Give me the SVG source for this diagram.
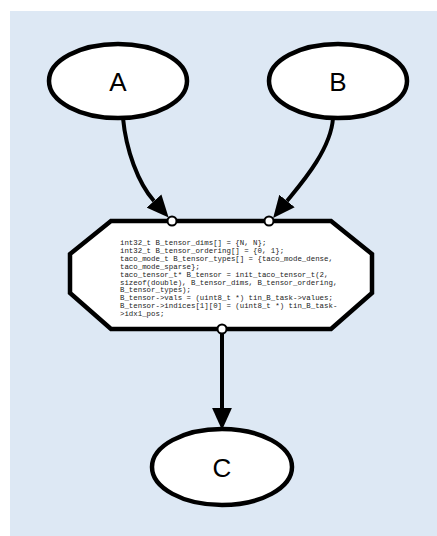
<svg xmlns="http://www.w3.org/2000/svg" width="437" height="536" viewBox="0 0 437 536">
<defs>
<style>
.node ellipse{fill:#fff;stroke:#000;stroke-width:4.5}
.lbl{font-family:"Liberation Sans",Arial,sans-serif;font-size:26px;fill:#000;text-anchor:middle}
.code{font-family:"Liberation Mono","Courier New",monospace;font-size:7.4px;fill:#222}
.edge{fill:none;stroke:#000;stroke-width:4}
.port{fill:#fff;stroke:#000;stroke-width:2}
</style>
<marker id="arr" markerUnits="userSpaceOnUse" markerWidth="22" markerHeight="20" viewBox="0 0 20 18" refX="0" refY="9" orient="auto">
<path d="M0,0 L20,9 L0,18 Z" fill="#000"/>
</marker>
</defs>
<rect x="10" y="11" width="427" height="525" fill="#dde8f4"/>
<g id="edges">
<path class="edge" d="M123,118 C126,150 138,183 154,201" marker-end="url(#arr)"/>
<path class="edge" d="M333,118 C331,150 300,185 287,201" marker-end="url(#arr)"/>
<path class="edge" d="M222,333 L222,408" marker-end="url(#arr)"/>
</g>
<g id="A" class="node"><ellipse cx="118" cy="81" rx="69" ry="37"/><text class="lbl" x="118" y="91">A</text></g>
<g id="B" class="node"><ellipse cx="338" cy="81" rx="69" ry="37"/><text class="lbl" x="338" y="91">B</text></g>
<g id="C" class="node"><ellipse cx="222" cy="467" rx="70" ry="38"/><text class="lbl" x="222" y="477">C</text></g>
<g id="task">
<polygon points="111,221 331,221 372,254 372,293 331,329 111,329 70,293 70,254" fill="#fff" stroke="#000" stroke-width="4.5"/>
<text class="code" x="120" y="245">
<tspan x="120" y="245">int32_t B_tensor_dims[] = {N, N};</tspan>
<tspan x="120" dy="7.9">int32_t B_tensor_ordering[] = {0, 1};</tspan>
<tspan x="120" dy="7.9">taco_mode_t B_tensor_types[] = {taco_mode_dense,</tspan>
<tspan x="120" dy="7.9">taco_mode_sparse};</tspan>
<tspan x="120" dy="7.9">taco_tensor_t* B_tensor = init_taco_tensor_t(2,</tspan>
<tspan x="120" dy="7.9">sizeof(double), B_tensor_dims, B_tensor_ordering,</tspan>
<tspan x="120" dy="7.9">B_tensor_types);</tspan>
<tspan x="120" dy="7.9">B_tensor-&gt;vals = (uint8_t *) tin_B_task-&gt;values;</tspan>
<tspan x="120" dy="7.9">B_tensor-&gt;indices[1][0] = (uint8_t *) tin_B_task-</tspan>
<tspan x="120" dy="7.9">&gt;idx1_pos;</tspan>
</text>
<circle class="port" cx="172" cy="221" r="4.5"/>
<circle class="port" cx="269" cy="221" r="4.5"/>
<circle class="port" cx="222" cy="329" r="4.5"/>
</g>
</svg>
